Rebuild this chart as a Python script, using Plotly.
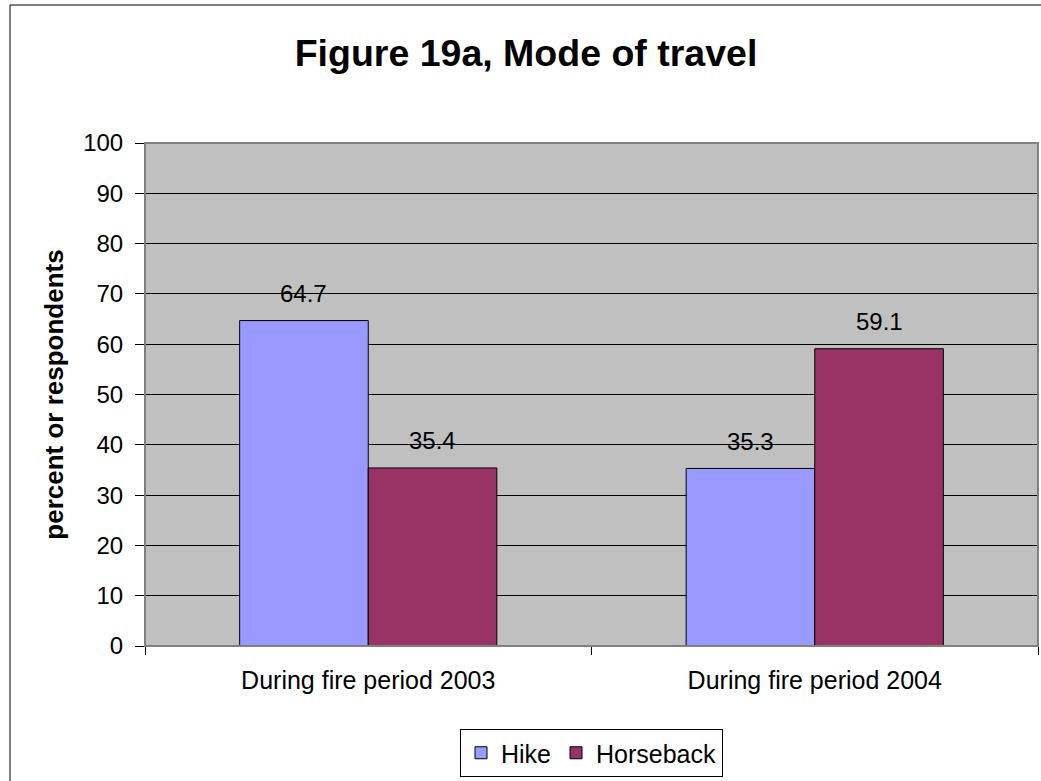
import plotly.graph_objects as go

# Survey results: mode of travel during fire periods
categories = ["During fire period 2003", "During fire period 2004"]
hike = [64.7, 35.3]
horseback = [35.4, 59.1]
series_names = ["Hike", "Horseback"]
series_colors = ["#9999FF", "#993366"]
y_ticks = [0, 10, 20, 30, 40, 50, 60, 70, 80, 90, 100]

FONT = "Liberation Sans, Arial, sans-serif"
W, H = 1041, 781
L, R, T, B = 145, 3, 143, 135

BARGAP = 0.424
fig = go.Figure()
for name, vals, col in zip(series_names, [hike, horseback], series_colors):
    fig.add_trace(go.Bar(
        x=categories, y=vals, name=name,
        marker=dict(color=col, line=dict(color="black", width=1)),
    ))

# value labels above each bar
bar_w = (1 - BARGAP) / 2
for k, vals in enumerate([hike, horseback]):
    off = (k - 0.5) * bar_w
    for i, v in enumerate(vals):
        fig.add_annotation(
            x=i + off, y=v, xref="x", yref="y",
            text=f"{v:.1f}", showarrow=False,
            yanchor="middle", yshift=27,
            font=dict(family=FONT, size=24, color="black"),
        )

pw, ph = W - L - R, H - T - B

# plot area frame
fig.add_shape(type="rect", xref="paper", yref="paper", x0=0, x1=1, y0=0, y1=1,
              line=dict(color="#808080", width=2), layer="above")
# outer chart border (right and bottom edges run off the page)
fig.add_shape(type="rect", xref="paper", yref="paper",
              x0=(10 - L) / pw, x1=(W + 10 - L) / pw,
              y0=-(H + 10 - T - ph) / ph, y1=(H - B - 5) / ph,
              line=dict(color="black", width=1))

fig.update_layout(
    width=W, height=H,
    margin=dict(l=L, r=R, t=T, b=B, autoexpand=False),
    paper_bgcolor="white", plot_bgcolor="#C0C0C0",
    barmode="group", bargap=BARGAP, bargroupgap=0,
    font=dict(family=FONT, size=24, color="black"),
    title=dict(text="<b>Figure 19a, Mode of travel</b>",
               x=526 / W, xanchor="center", xref="container",
               y=1 - 53 / H, yanchor="middle", yref="container",
               font=dict(family=FONT, size=37.5, color="black")),
    legend=dict(orientation="h", x=0.5, xanchor="center",
                y=(646 - 729) / ph, yanchor="top",
                bordercolor="black", borderwidth=1, bgcolor="white",
                font=dict(family=FONT, size=25, color="black"),
                itemwidth=30, tracegroupgap=0),
    showlegend=True,
)
fig.update_yaxes(
    range=[0, 100], tickvals=y_ticks, ticktext=[str(t) for t in y_ticks],
    showgrid=True, gridcolor="black", gridwidth=1,
    ticks="outside", ticklen=9, tickcolor="black", tickwidth=1,
    ticklabelstandoff=7,
    showline=True, linecolor="black", linewidth=1,
    zeroline=False,
    tickfont=dict(family=FONT, size=24, color="black"),
    title=dict(text="<b>percent or respondents</b>", standoff=12,
               font=dict(family=FONT, size=26, color="black")),
)
fig.update_xaxes(
    ticks="outside", ticklen=8, tickcolor="black", tickwidth=1,
    tickson="boundaries", ticklabelstandoff=12,
    showline=True, linecolor="black", linewidth=1,
    showgrid=False,
    tickfont=dict(family=FONT, size=25, color="black"),
)

fig.write_html("out.html")
